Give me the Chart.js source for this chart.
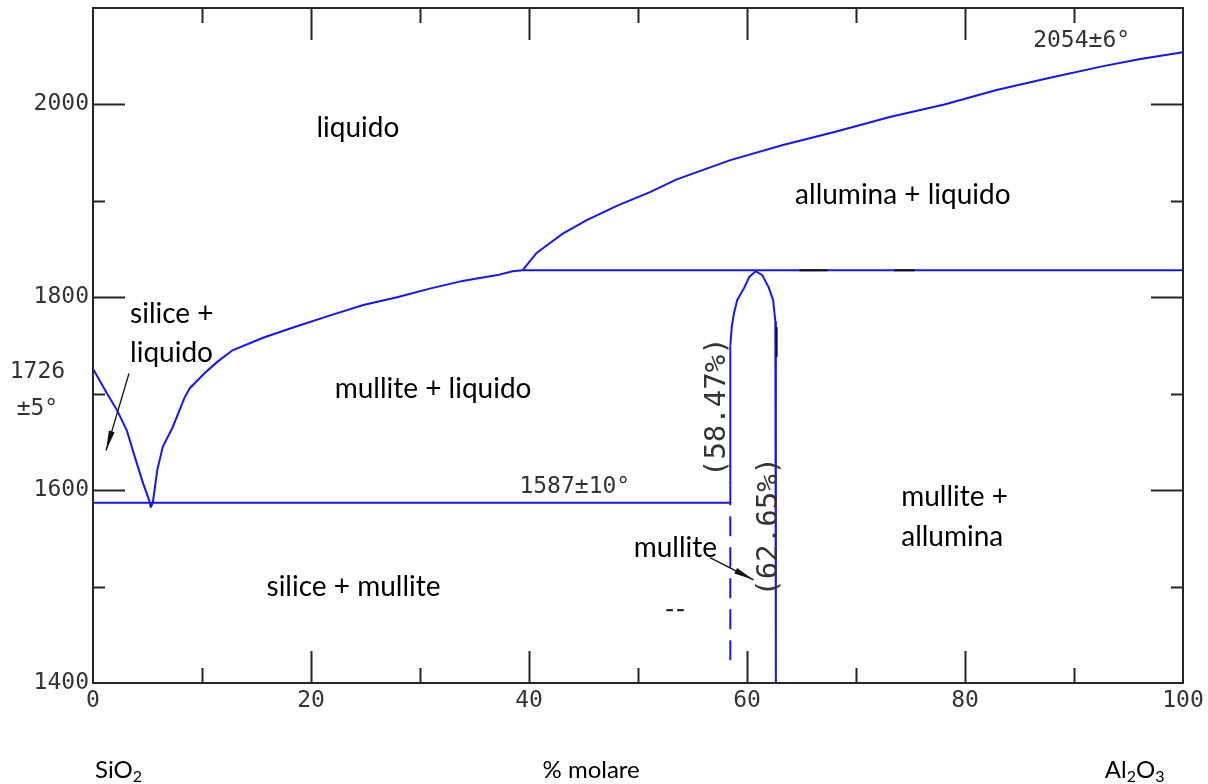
<!DOCTYPE html>
<html>
<head>
<meta charset="utf-8">
<script src="https://cdn.jsdelivr.net/npm/chart.js@4.4.1/dist/chart.umd.min.js"></script>
<style>
  body { margin: 0; background: #fff; }
  #wrap { width: 1208px; height: 784px; }
</style>
</head>
<body>
<div id="wrap"><canvas id="phaseChart" width="1208" height="784"></canvas></div>
<script>
// SiO2 - Al2O3 phase diagram, % molare vs temperatura

const silicaLiqX = [0, 1.3, 2.2, 3.1, 3.85, 4.6, 5.2, 5.3];
const silicaLiqY = [1726, 1700, 1683, 1662, 1634, 1607, 1588, 1582];

const mulliteLiqX = [5.3, 5.5, 5.9, 6.4, 7.3, 8.4, 8.9, 10.3, 11.4, 12.8, 15.6, 18.7, 21.7, 24.8, 27.9, 30.9, 33.9, 37.1, 38.5, 39.4];
const mulliteLiqY = [1582, 1588, 1621, 1645, 1665, 1696, 1706, 1722, 1733, 1745, 1758, 1770, 1781, 1792, 1800, 1809, 1817, 1823, 1827, 1828];

const aluminaLiqX = [39.4, 40.7, 41.9, 43.1, 45.3, 48.1, 51.1, 53.5, 58.4, 63.3, 68.2, 73.1, 78.1, 82.9, 87.9, 92.8, 96.1, 100];
const aluminaLiqY = [1828, 1846, 1856, 1866, 1880, 1895, 1909, 1922, 1942, 1958, 1972, 1987, 2000, 2015, 2028, 2040, 2047, 2054];

const upperLineX = [39.4, 100];
const upperLineY = [1828, 1828];

const eutecticX = [0, 58.47];
const eutecticY = [1587, 1587];

const mulliteLeftX = [58.47, 58.47];
const mulliteLeftY = [1750, 1605];

const mulliteDashX = [58.47, 58.47];
const mulliteDashY = [1605, 1418];

const mulliteDomeX = [58.47, 58.6, 58.8, 59.1, 59.75, 60.2, 60.8, 61.4, 62.0, 62.4, 62.6, 62.65, 62.65];
const mulliteDomeY = [1750, 1769, 1783, 1797, 1810, 1821, 1827, 1823, 1810, 1797, 1775, 1765, 1400];

const xTickLabels = [0, 20, 40, 60, 80, 100];
const yTickLabels = [1400, 1600, 1800, 2000];

const toPoints = (xs, ys) => xs.map((x, i) => ({ x: x, y: ys[i] }));

const BLUE = '#1414ff';
const tickFont = "'DejaVu Sans Mono', monospace";
const textFont = "Lato, 'Open Sans', sans-serif";

function line(xs, ys, dash) {
  return {
    data: toPoints(xs, ys),
    showLine: true,
    borderColor: BLUE,
    borderWidth: 2,
    borderDash: dash || [],
    pointRadius: 0,
    tension: 0,
    fill: false
  };
}

// region labels, in data units
const regionLabels = [
  { text: 'liquido', x: 24.3, y: 1976, align: 'center' },
  { text: 'allumina + liquido', x: 74.3, y: 1906, align: 'center' },
  { text: 'silice +', x: 3.4, y: 1783, align: 'left' },
  { text: 'liquido', x: 3.4, y: 1742, align: 'left' },
  { text: 'mullite + liquido', x: 31.2, y: 1705, align: 'center' },
  { text: 'mullite +', x: 74.15, y: 1593, align: 'left' },
  { text: 'allumina', x: 74.15, y: 1551, align: 'left' },
  { text: 'silice + mullite', x: 23.9, y: 1500, align: 'center' },
  { text: 'mullite', x: 49.6, y: 1540, align: 'left' }
];

const valueLabels = [
  { text: '2054\u00b16\u00b0', x: 90.7, y: 2066, size: 23, rot: 0 },
  { text: '1587\u00b110\u00b0', x: 44.2, y: 1603, size: 23, rot: 0 },
  { text: '1726', x: -5.1, y: 1722, size: 23, rot: 0 },
  { text: '\u00b15\u00b0', x: -5.1, y: 1684, size: 23, rot: 0 },
  { text: '(58.47%)', x: 57.3, y: 1686, size: 29, rot: -Math.PI / 2 },
  { text: '(62.65%)', x: 62.05, y: 1562, size: 29, rot: -Math.PI / 2 }
];

const arrows = [
  { from: [3.3, 1721], to: [1.2, 1641] },
  { from: [56.6, 1530], to: [60.6, 1507] }
];

const blackMarks = [
  [[64.8, 1828], [67.4, 1828]],
  [[73.5, 1828], [75.4, 1828]],
  [[62.72, 1769], [62.72, 1738]],
  [[52.6, 1475.5], [53.2, 1475.5]],
  [[53.6, 1475.5], [54.2, 1475.5]]
];

const decorPlugin = {
  id: 'decor',
  afterDraw(chart) {
    const ctx = chart.ctx;
    const xs = chart.scales.x, ys = chart.scales.y;
    const a = chart.chartArea;
    const px = v => xs.getPixelForValue(v);
    const py = v => ys.getPixelForValue(v);

    ctx.save();
    // frame
    ctx.strokeStyle = '#262626';
    ctx.lineWidth = 2;
    ctx.strokeRect(a.left, a.top, a.right - a.left, a.bottom - a.top);

    // inward ticks on all four sides
    ctx.beginPath();
    xs.ticks.forEach(t => {
      if (t.value <= xs.min || t.value >= xs.max) return;
      const len = t.value % 20 === 0 ? 32 : 15;
      const x = Math.round(px(t.value)) + 0.5;
      ctx.moveTo(x, a.bottom); ctx.lineTo(x, a.bottom - len);
      ctx.moveTo(x, a.top); ctx.lineTo(x, a.top + len);
    });
    ys.ticks.forEach(t => {
      if (t.value <= ys.min || t.value >= ys.max) return;
      const len = t.value % 200 === 0 ? 32 : 12;
      const y = Math.round(py(t.value)) + 0.5;
      ctx.moveTo(a.left, y); ctx.lineTo(a.left + len, y);
      ctx.moveTo(a.right, y); ctx.lineTo(a.right - len, y);
    });
    ctx.stroke();

    // small black strokes
    ctx.strokeStyle = '#111';
    ctx.lineWidth = 2;
    blackMarks.forEach(m => {
      ctx.beginPath();
      ctx.moveTo(px(m[0][0]), py(m[0][1]));
      ctx.lineTo(px(m[1][0]), py(m[1][1]));
      ctx.stroke();
    });

    // pointer arrows
    arrows.forEach(ar => {
      const x1 = px(ar.from[0]), y1 = py(ar.from[1]);
      const x2 = px(ar.to[0]), y2 = py(ar.to[1]);
      ctx.strokeStyle = '#111';
      ctx.lineWidth = 1.3;
      ctx.beginPath();
      ctx.moveTo(x1, y1); ctx.lineTo(x2, y2);
      ctx.stroke();
      const ang = Math.atan2(y2 - y1, x2 - x1);
      const L = 20, W = 3;
      ctx.fillStyle = '#111';
      ctx.beginPath();
      ctx.moveTo(x2, y2);
      ctx.lineTo(x2 - L * Math.cos(ang) + W * Math.sin(ang), y2 - L * Math.sin(ang) - W * Math.cos(ang));
      ctx.lineTo(x2 - L * Math.cos(ang) - W * Math.sin(ang), y2 - L * Math.sin(ang) + W * Math.cos(ang));
      ctx.closePath();
      ctx.fill();
    });

    // region labels
    ctx.fillStyle = '#000';
    ctx.font = '28px ' + textFont;
    ctx.textBaseline = 'middle';
    regionLabels.forEach(l => {
      ctx.textAlign = l.align;
      ctx.fillText(l.text, px(l.x), py(l.y));
    });

    // temperature / composition labels
    ctx.fillStyle = '#333';
    ctx.textAlign = 'center';
    valueLabels.forEach(l => {
      ctx.save();
      ctx.translate(px(l.x), py(l.y));
      ctx.rotate(l.rot);
      ctx.font = l.size + 'px ' + tickFont;
      ctx.fillText(l.text, 0, 0);
      ctx.restore();
    });

    // axis captions
    const baseY = 778;
    ctx.fillStyle = '#000';
    ctx.textBaseline = 'alphabetic';
    const chem = (parts, x, align) => {
      let w = 0;
      parts.forEach(p => {
        ctx.font = (p.sub ? '16px ' : '24px ') + textFont;
        w += ctx.measureText(p.t).width;
      });
      let cx = align === 'right' ? x - w : x;
      ctx.textAlign = 'left';
      parts.forEach(p => {
        ctx.font = (p.sub ? '16px ' : '24px ') + textFont;
        ctx.fillText(p.t, cx, baseY + (p.sub ? 4 : 0));
        cx += ctx.measureText(p.t).width;
      });
    };
    chem([{ t: 'SiO' }, { t: '2', sub: true }], a.left + 2, 'left');
    chem([{ t: 'Al' }, { t: '2', sub: true }, { t: 'O' }, { t: '3', sub: true }], px(98.3), 'right');
    ctx.font = '24px ' + textFont;
    ctx.textAlign = 'center';
    ctx.fillText('% molare', px(45.7), baseY);
    ctx.restore();
  }
};

new Chart(document.getElementById('phaseChart'), {
  type: 'scatter',
  data: {
    datasets: [
      line(silicaLiqX, silicaLiqY),
      line(mulliteLiqX, mulliteLiqY),
      line(aluminaLiqX, aluminaLiqY),
      line(upperLineX, upperLineY),
      line(eutecticX, eutecticY),
      line(mulliteLeftX, mulliteLeftY),
      line(mulliteDashX, mulliteDashY, [20, 11]),
      line(mulliteDomeX, mulliteDomeY)
    ]
  },
  options: {
    responsive: false,
    animation: false,
    layout: { padding: { top: 8, right: 25, left: 0, bottom: 0 } },
    plugins: {
      legend: { display: false },
      tooltip: { enabled: false }
    },
    scales: {
      x: {
        type: 'linear',
        min: 0,
        max: 100,
        afterFit: s => { s.height = 101; },
        grid: { display: false, drawTicks: false },
        border: { display: false },
        ticks: {
          stepSize: 10,
          autoSkip: false,
          maxRotation: 0,
          padding: 4,
          color: '#333',
          font: { family: tickFont, size: 23 },
          callback: v => xTickLabels.includes(v) ? String(v) : ''
        }
      },
      y: {
        type: 'linear',
        min: 1400,
        max: 2100,
        afterFit: s => { s.width = 93; s.paddingTop = 0; s.paddingBottom = 0; },
        grid: { display: false, drawTicks: false },
        border: { display: false },
        ticks: {
          stepSize: 100,
          autoSkip: false,
          padding: 4,
          color: '#333',
          font: { family: tickFont, size: 23 },
          callback: v => yTickLabels.includes(v) ? String(v) : ''
        }
      }
    }
  },
  plugins: [decorPlugin]
});
</script>
</body>
</html>
